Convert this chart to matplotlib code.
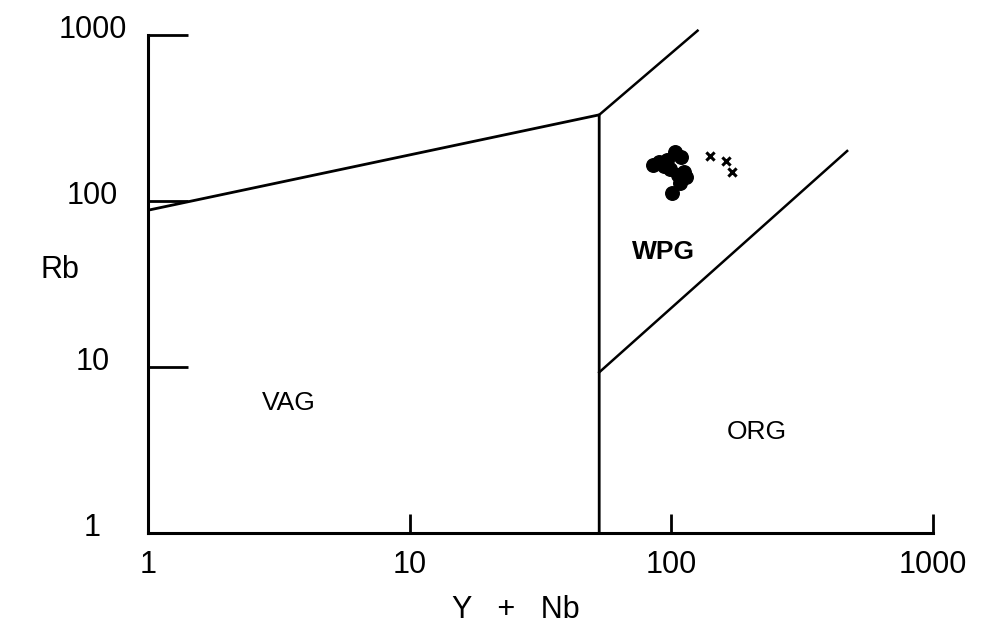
import matplotlib.pyplot as plt
from matplotlib.transforms import ScaledTranslation

plt.rcParams['font.family'] = ['Liberation Sans', 'DejaVu Sans']

# Discrimination boundaries (Y+Nb, Rb)
vag_wpg_x = [1, 53, 53]
vag_wpg_y = [88, 330, 1]
wpg_upper_x = [53, 126]
wpg_upper_y = [330, 1060]
wpg_org_x = [53, 470]
wpg_org_y = [9.3, 200]

# Samples
dots_x = [85, 90, 96, 103, 109, 99, 106, 114, 108, 101, 94, 112]
dots_y = [165, 172, 176, 198, 185, 156, 144, 139, 128, 112, 162, 150]
cross_x = [140, 162, 171]
cross_y = [187, 174, 150]

fields = ['VAG', 'WPG', 'ORG']
field_x = [3.45, 93, 212]
field_y = [6.1, 49, 4.05]

fig = plt.figure(figsize=(9.81, 6.34), dpi=100)
ax = fig.add_axes([0.151, 0.159, 0.800, 0.786])
ax.set_xscale('log')
ax.set_yscale('log')
ax.set_xlim(1, 1000)
ax.set_ylim(1, 1000)

ax.plot(vag_wpg_x, vag_wpg_y, color='black', lw=2)
ax.plot(wpg_upper_x, wpg_upper_y, color='black', lw=1.8, clip_on=False)
ax.plot(wpg_org_x, wpg_org_y, color='black', lw=1.8)

ax.scatter(dots_x, dots_y, s=95, color='black', zorder=3)
ax.scatter(cross_x, cross_y, marker='x', s=35, color='black', linewidths=2.2, zorder=3)

for name, x, y in zip(fields, field_x, field_y):
    ax.text(x, y, name, fontsize=19, ha='center', va='center',
            fontweight='bold' if name == 'WPG' else 'normal')

ax.spines['top'].set_visible(False)
ax.spines['right'].set_visible(False)
ax.spines['left'].set_linewidth(2.2)
ax.spines['bottom'].set_linewidth(2.2)

ax.set_xticks([1, 10, 100, 1000])
ax.set_xticklabels(['1', '10', '100', '1000'])
ax.set_yticks([1, 10, 100, 1000])
ax.set_yticklabels(['1', '10', '100', '1000'])
ax.minorticks_off()
ax.tick_params(axis='x', direction='in', length=14, width=2, pad=12, labelsize=22)
ax.tick_params(axis='y', direction='in', length=29, width=2, pad=40, labelsize=22)

# y tick labels are centred and sit a little above their ticks in the original
shift = ScaledTranslation(0, 6 / 72, fig.dpi_scale_trans)
for lab in ax.get_yticklabels():
    lab.set_horizontalalignment('center')
    lab.set_transform(lab.get_transform() + shift)

ax.set_xlabel('Y   +   Nb', fontsize=22, va='center')
ax.xaxis.set_label_coords(0.469, -0.155)
ax.set_ylabel('Rb', fontsize=22, rotation=0, va='center', ha='center')
ax.yaxis.set_label_coords(-0.112, 0.528)

plt.savefig('out.png', dpi=100)
